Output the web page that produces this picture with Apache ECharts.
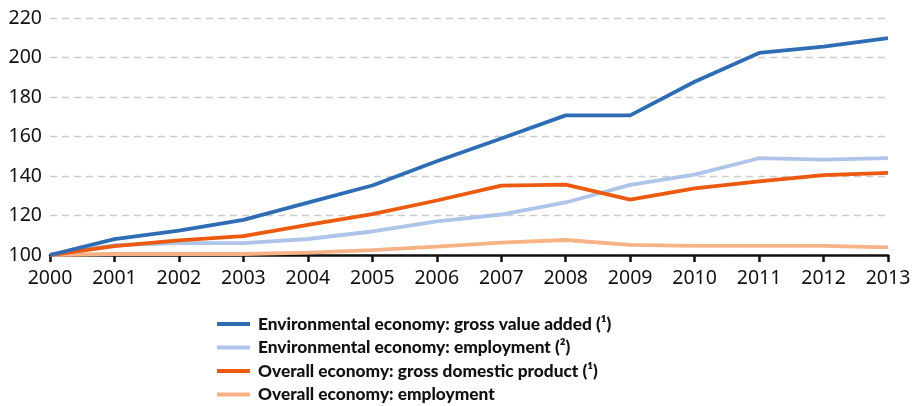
<!DOCTYPE html>
<html><head><meta charset="utf-8">
<script src="https://cdn.jsdelivr.net/npm/echarts@6/dist/echarts.min.js"></script>
<style>html,body{margin:0;padding:0;background:#fff}#c{width:917px;height:406px}</style>
</head><body><div id="c"></div>
<script>
const years = ['2000','2001','2002','2003','2004','2005','2006','2007','2008','2009','2010','2011','2012','2013'];
const envGva = [100,108,112.4,117.8,126.5,135.2,147.5,159,170.7,170.7,187.7,202.3,205.5,209.8];
const envEmp = [100,105,106,106,108.1,111.9,117,120.5,126.6,135.5,140.7,149,148.3,149];
const gdp = [100,104.5,107.4,109.6,115.3,120.7,127.6,135.1,135.6,128,133.7,137.3,140.4,141.6];
const totEmp = [100,100.5,100.5,100.5,101.2,102.5,104.2,106.3,107.6,105.1,104.6,104.6,104.6,103.9];
const names = ['Environmental economy: gross value added (¹)','Environmental economy: employment (²)','Overall economy: gross domestic product (¹)','Overall economy: employment'];
const colors = ['#2E6DB4','#AEC4E9','#EB5A0F','#F8B287'];
const yTicks = {min:100,max:220,interval:20};
const font = '"Noto Sans", "Open Sans", sans-serif';
const legendFont = 'Lato, sans-serif';
const chart = echarts.init(document.getElementById('c'));
const data = [envGva, envEmp, gdp, totEmp];
const order = [3,1,2,0];
chart.setOption({
  animation:false,
  color: colors,
  grid:{left:50,right:29,top:18,bottom:151,containLabel:false},
  legend:{
    orient:'vertical', left:212, top:309, height:100, itemWidth:33, itemHeight:4, itemGap:3.5,
    icon:'rect',
    data: names,
    textStyle:{fontFamily:legendFont,fontWeight:900,fontSize:17.3,color:'#111',lineHeight:20,padding:[0,0,0,3]}
  },
  xAxis:{type:'category',data:years,boundaryGap:false,
    axisLine:{lineStyle:{color:'#111',width:2.5}},
    axisTick:{show:true,length:7,lineStyle:{color:'#111',width:2.5},alignWithLabel:true},
    axisLabel:{fontFamily:font,fontSize:19.5,color:'#111',margin:13},
    splitLine:{show:false}},
  yAxis:{type:'value',min:yTicks.min,max:yTicks.max,interval:yTicks.interval,
    axisLine:{show:false},axisTick:{show:false},
    axisLabel:{fontFamily:font,fontSize:19.5,color:'#111',margin:8},
    splitLine:{show:true,lineStyle:{color:'#cccccc',type:[7,5],width:1.3}}},
  series: order.map(i=>({
    name:names[i],type:'line',data:data[i],symbol:'none',
    lineStyle:{width:3.8,color:colors[i]},itemStyle:{color:colors[i]},z:2+ (i===0?3:i===2?2:i===1?1:0)
  }))
});
</script></body></html>
